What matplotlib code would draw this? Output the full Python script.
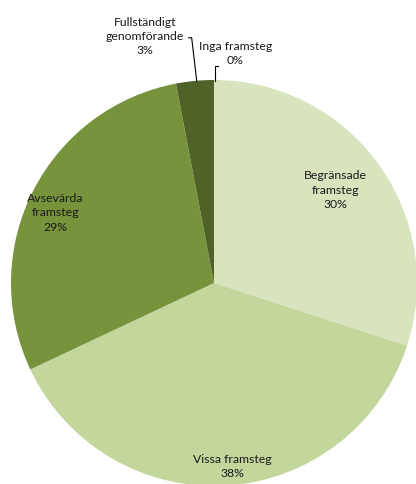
import matplotlib.pyplot as plt

# Andel per kategori (procent)
categories = ["Begränsade\nframsteg", "Vissa framsteg", "Avsevärda\nframsteg",
              "Fullständigt\ngenomförande", "Inga framsteg"]
values = [30, 38, 29, 3, 0]
colors = ["#d7e4bd", "#c3d69b", "#77933c", "#4f6228", "#3b4a1e"]

plt.rcParams["font.family"] = ["Lato", "DejaVu Sans"]

fig = plt.figure(figsize=(4.16, 4.84), dpi=100)
# square axes, pie centre at (214, 283) px with radius 203 px
ax = fig.add_axes([11 / 416, -2 / 484, 406 / 416, 406 / 484])
wedges, _ = ax.pie(values, colors=colors, startangle=90, counterclock=False,
                   radius=1.0, wedgeprops=dict(linewidth=0))
ax.set_xlim(-1, 1)
ax.set_ylim(-1, 1)
ax.set_aspect("auto")
ax.axis("off")

txt = dict(fontsize=8.8, color="#1a1a1a", ha="center", va="center",
           linespacing=1.35)

def label(i):
    return f"{categories[i]}\n{values[i]}%"

ax.text(0.596, 0.458, label(0), **txt)
ax.text(0.089, -0.905, label(1), **txt)
ax.text(-0.783, 0.345, label(2), **txt)
ax.text(-0.34, 1.215, label(3), clip_on=False, **txt)
ax.text(0.105, 1.13, label(4), clip_on=False, **txt)

# leader lines for the two small slices
ax.plot([-0.125, -0.11, -0.085], [1.208, 1.208, 0.995], color="black",
        lw=0.8, clip_on=False)
ax.plot([0.02, 0.003, 0.003], [1.07, 1.07, 0.995], color="black",
        lw=0.8, clip_on=False)

fig.savefig("out.png", dpi=100)
